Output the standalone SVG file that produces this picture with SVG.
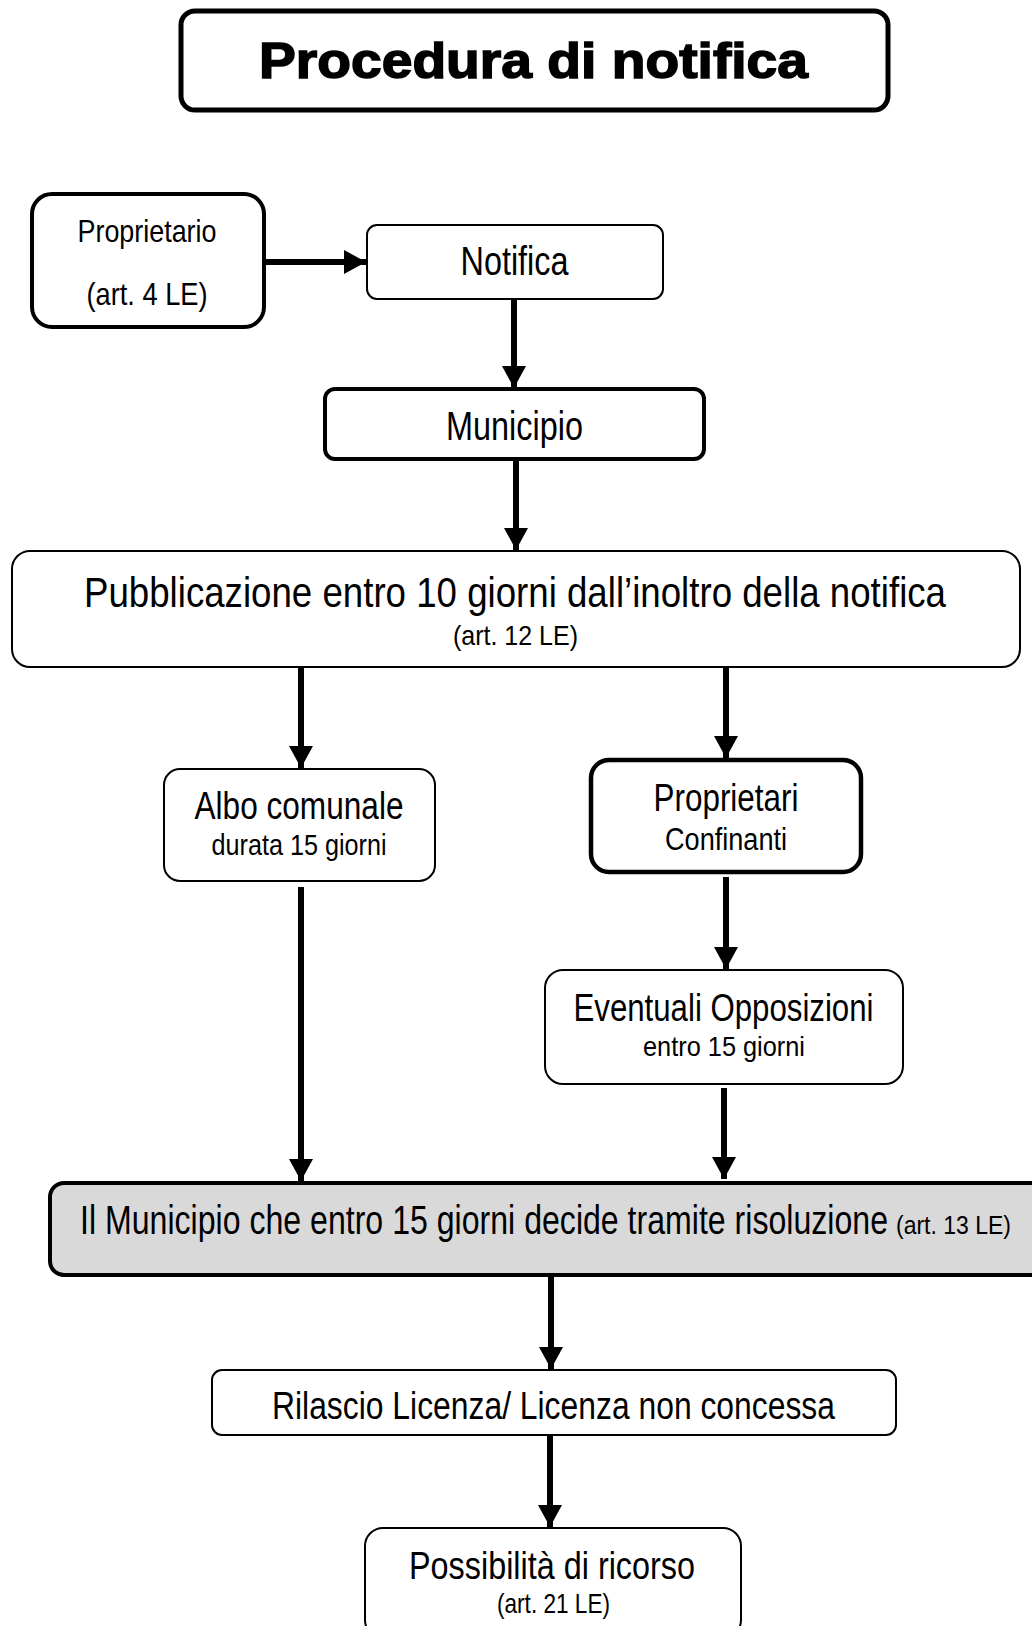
<svg xmlns="http://www.w3.org/2000/svg" width="1032" height="1626" viewBox="0 0 1032 1626">
<defs>
<style>
.box{fill:#fff;stroke:#000;stroke-width:2}
.thick{stroke-width:4}
.t{font-family:"Liberation Sans Narrow","Liberation Sans",Arial,sans-serif;fill:#000;text-anchor:middle}
.s{font-family:"Liberation Sans Narrow","Liberation Sans",Arial,sans-serif;fill:#000}
.c{stroke:#000;stroke-width:6;fill:none;marker-end:url(#ah)}
</style>
<marker id="ah" markerUnits="userSpaceOnUse" markerWidth="22" markerHeight="24" refX="22" refY="12" orient="auto">
<path d="M0,0 L22,12 L0,24 Z" fill="#000"/>
</marker>
</defs>
<rect width="1032" height="1626" fill="#fff"/>
<g id="title">
<rect x="181" y="11" width="707" height="99" rx="14" class="box" style="stroke-width:5"/>
<text x="533.5" y="78" class="t" font-size="50" font-weight="bold" stroke="#000" stroke-width="1.5" textLength="549" lengthAdjust="spacingAndGlyphs">Procedura di notifica</text>
</g>
<g id="proprietario">
<rect x="32" y="194" width="232" height="133" rx="20" class="box thick"/>
<text x="147" y="242" class="t" font-size="32" textLength="139" lengthAdjust="spacingAndGlyphs">Proprietario</text>
<text x="147" y="305" class="t" font-size="32" textLength="121" lengthAdjust="spacingAndGlyphs">(art. 4 LE)</text>
</g>
<g id="notifica">
<rect x="367" y="225" width="296" height="74" rx="10" class="box"/>
<text x="514.5" y="275" class="t" font-size="40" textLength="108" lengthAdjust="spacingAndGlyphs">Notifica</text>
</g>
<g id="municipio">
<rect x="325" y="389" width="379" height="70" rx="10" class="box thick"/>
<text x="514.5" y="440" class="t" font-size="40" textLength="137" lengthAdjust="spacingAndGlyphs">Municipio</text>
</g>
<g id="pubblicazione">
<rect x="12" y="551" width="1008" height="116" rx="18" class="box"/>
<text x="515" y="607" class="t" font-size="43" textLength="862" lengthAdjust="spacingAndGlyphs">Pubblicazione entro 10 giorni dall’inoltro della notifica</text>
<text x="515.5" y="645" class="t" font-size="28" textLength="125" lengthAdjust="spacingAndGlyphs">(art. 12 LE)</text>
</g>
<g id="albo">
<rect x="164" y="769" width="271" height="112" rx="16" class="box"/>
<text x="299" y="819" class="t" font-size="38" textLength="209" lengthAdjust="spacingAndGlyphs">Albo comunale</text>
<text x="299" y="855" class="t" font-size="30" textLength="175" lengthAdjust="spacingAndGlyphs">durata 15 giorni</text>
</g>
<g id="confinanti">
<rect x="591" y="760" width="270" height="112" rx="18" class="box" style="stroke-width:4.5"/>
<text x="726" y="811" class="t" font-size="39" textLength="145" lengthAdjust="spacingAndGlyphs">Proprietari</text>
<text x="726" y="850" class="t" font-size="31" textLength="122" lengthAdjust="spacingAndGlyphs">Confinanti</text>
</g>
<g id="opposizioni">
<rect x="545" y="970" width="358" height="114" rx="18" class="box"/>
<text x="723.5" y="1021" class="t" font-size="38" textLength="300" lengthAdjust="spacingAndGlyphs">Eventuali Opposizioni</text>
<text x="724" y="1056" class="t" font-size="28" textLength="162" lengthAdjust="spacingAndGlyphs">entro 15 giorni</text>
</g>
<g id="decisione">
<rect x="50" y="1183" width="1000" height="92" rx="14" class="box thick" style="fill:#d9d9d9"/>
<text x="80" y="1234" class="s" font-size="40" textLength="808" lengthAdjust="spacingAndGlyphs">Il Municipio che entro 15 giorni decide tramite risoluzione</text>
<text x="896" y="1234" class="s" font-size="26" textLength="115" lengthAdjust="spacingAndGlyphs">(art. 13 LE)</text>
</g>
<g id="rilascio">
<rect x="212" y="1370" width="684" height="65" rx="10" class="box"/>
<text x="553.5" y="1419" class="t" font-size="38" textLength="563" lengthAdjust="spacingAndGlyphs">Rilascio Licenza/ Licenza non concessa</text>
</g>
<g id="ricorso">
<rect x="365" y="1528" width="376" height="110" rx="18" class="box"/>
<text x="552" y="1579" class="t" font-size="38" textLength="286" lengthAdjust="spacingAndGlyphs">Possibilità di ricorso</text>
<text x="553.5" y="1613" class="t" font-size="28" textLength="113" lengthAdjust="spacingAndGlyphs">(art. 21 LE)</text>
</g>
<g id="connectors">
<line x1="266" y1="262" x2="366" y2="262" class="c"/>
<line x1="514" y1="300" x2="514" y2="388" class="c"/>
<line x1="516" y1="461" x2="516" y2="550" class="c"/>
<line x1="301" y1="668" x2="301" y2="768" class="c"/>
<line x1="726" y1="668" x2="726" y2="758" class="c"/>
<line x1="726" y1="877" x2="726" y2="969" class="c"/>
<line x1="301" y1="887" x2="301" y2="1181" class="c"/>
<line x1="724" y1="1088" x2="724" y2="1179" class="c"/>
<line x1="551" y1="1277" x2="551" y2="1369" class="c"/>
<line x1="550" y1="1436" x2="550" y2="1527" class="c"/>
</g>
</svg>
